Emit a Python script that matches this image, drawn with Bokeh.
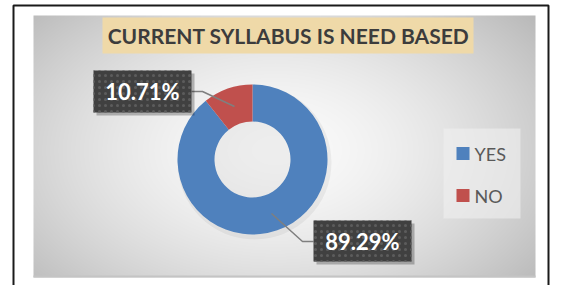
import numpy as np
from bokeh.plotting import figure
from bokeh.models import Range1d
from bokeh.core.properties import value
from bokeh.embed import file_html
from bokeh.resources import INLINE

# ---- data ----
categories = ["YES", "NO"]
shares = [89.29, 10.71]
share_labels = ["89.29%", "10.71%"]
colors = ["#4f81bd", "#c0504d"]
title_text = "CURRENT SYLLABUS IS NEED BASED"

W, H = 561, 285
OX, OY = 0, 0


def Y(sy):
    return (OY + H) - sy


p = figure(width=W, height=H, x_range=Range1d(OX, OX + W), y_range=Range1d(0, H),
           output_backend="svg", toolbar_location=None, min_border=0,
           x_axis_location=None, y_axis_location=None)
p.grid.visible = False
p.outline_line_color = None
p.background_fill_color = "white"
p.border_fill_color = "white"

# ---- radial gradient background of the chart area ----
gx0, gx1, gy0, gy1 = 33, 535, 15, 277
cols, rows = gx1 - gx0, gy1 - gy0
sx = np.linspace(gx0, gx1, cols)[None, :]
sy = np.linspace(gy1, gy0, rows)[:, None]
d = np.sqrt(((sx - 275) / 300.0) ** 2 + ((sy - 150) / 190.0) ** 2)
b = np.clip(251 - 55 * d ** 1.6, 180, 252).astype(np.uint8)
img = np.empty((rows, cols), dtype=np.uint32)
view = img.view(dtype=np.uint8).reshape((rows, cols, 4))
view[..., 0] = b
view[..., 1] = b
view[..., 2] = b
view[..., 3] = 255
p.image_rgba(image=[img], x=gx0, y=Y(gy1), dw=cols, dh=rows)
p.line(x=[gx0, gx1], y=[Y(gy1 - 1), Y(gy1 - 1)], line_color="#c4c4c4", line_width=2)

# ---- outer border ----
p.line(x=[13, 13, 548, 548], y=[Y(286), Y(5), Y(5), Y(286)], line_color="#1a1a1a", line_width=2)

# ---- title ----
p.quad(left=102, right=473, top=Y(17), bottom=Y(53), fill_color="#efd9a8", line_color=None)
p.text(x=[288], y=[Y(35)], text=[title_text], text_font=value("Lato"), text_font_style="bold",
       text_font_size="21px", text_color="#3c3c3c", text_align="center", text_baseline="middle")

# ---- donut ----
total = sum(shares)
starts, ends = [], []
cum = 0.0
for v in shares:
    starts.append(np.pi / 2 - 2 * np.pi * cum / total)
    ends.append(np.pi / 2 - 2 * np.pi * (cum + v) / total)
    cum += v
cx, cy = 252, Y(159)
p.circle(x=[cx + 2], y=[cy - 3], radius=77, fill_color="#000000", fill_alpha=0.05, line_color=None)
p.annular_wedge(x=cx, y=cy, inner_radius=38, outer_radius=75, start_angle=starts, end_angle=ends,
                direction="clock", fill_color=colors, line_color=None)

# ---- leader lines ----
p.line(x=[191, 202, 234], y=[Y(91), Y(91), Y(106)], line_color="#7f7f7f", line_width=1.5)
p.line(x=[271, 302, 313], y=[Y(213), Y(241), Y(241)], line_color="#7f7f7f", line_width=1.5)

# ---- data label boxes ----
boxes = {"YES": (313, 411, 220, 261), "NO": (93, 191, 70, 112)}
for cat, lab in zip(categories, share_labels):
    l, r, t, bm = boxes[cat]
    p.quad(left=l + 3, right=r + 3, top=Y(t + 3), bottom=Y(bm + 3), fill_color="#000000",
           fill_alpha=0.25, line_color=None)
    p.quad(left=l, right=r, top=Y(t), bottom=Y(bm), fill_color="#404040", line_color=None,
           hatch_pattern="dot", hatch_color="#5c5c5c", hatch_scale=6, hatch_weight=1)
    p.text(x=[(l + r) / 2], y=[Y((t + bm) / 2)], text=[lab], text_font=value("Lato"),
           text_font_style="bold", text_font_size="22px", text_color="white",
           text_align="center", text_baseline="middle")

# ---- legend ----
p.quad(left=443, right=520, top=Y(128), bottom=Y(218), fill_color="#f0f0f0", fill_alpha=0.6, line_color=None)
leg_y = [153, 195]
for cat, col, ly in zip(categories, colors, leg_y):
    p.quad(left=456, right=469, top=Y(ly - 6.5), bottom=Y(ly + 6.5), fill_color=col, line_color=None)
    p.text(x=[474], y=[Y(ly)], text=[cat], text_font=value("Lato"), text_font_size="18px",
           text_color="#595959", text_align="left", text_baseline="middle")

open("out.html", "w").write(file_html(p, INLINE))
